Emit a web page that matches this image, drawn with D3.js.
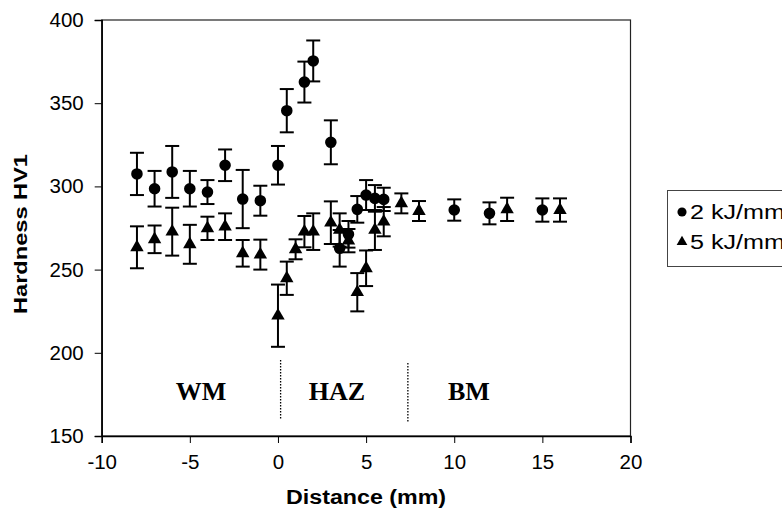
<!DOCTYPE html>
<html>
<head>
<meta charset="utf-8">
<script src="https://cdn.jsdelivr.net/npm/d3@7"></script>
<style>
  body { margin: 0; background: #fff; }
  svg { display: block; font-family: "Liberation Sans", Arial, sans-serif; }
</style>
</head>
<body>
<div id="chart"></div>
<script>
// axis ticks
const xTicks = [-10, -5, 0, 5, 10, 15, 20];
const yTicks = [150, 200, 250, 300, 350, 400];

// 2 kJ/mm series (circles)
const dist2 = [-8, -7, -6, -5, -4, -3, -2, -1, 0, 0.5, 1.5, 2, 3, 3.5, 4, 4.5, 5, 5.5, 6, 10, 12, 15];
const hard2 = [307.5, 298.6, 308.7, 298.6, 296.6, 312.7, 292.4, 291.4, 312.7, 345.5, 362.7, 375.4, 326.5, 262.8, 271.2, 286.2, 294.8, 292.8, 292.2, 285.8, 283.8, 285.8];
const err2 = [12.7, 10.7, 15.6, 10.7, 7.2, 9.5, 17.5, 9, 11.6, 13, 12.3, 12.3, 13.2, 11, 8, 8, 9, 8, 7, 6.4, 6.6, 7];

// 5 kJ/mm series (triangles)
const dist5 = [-8, -7, -6, -5, -4, -3, -2, -1, 0, 0.5, 1, 1.5, 2, 3, 3.5, 4, 4.5, 5, 5.5, 6, 7, 8, 13, 16];
const hard5 = [263.4, 268.2, 272.8, 265.2, 274.8, 275.8, 259.8, 259, 222.3, 244.8, 262.2, 272.8, 272.8, 278.2, 273.8, 267.4, 236.4, 250.8, 273.8, 278.8, 289.8, 285.2, 286.2, 285.8];
const err5 = [12.6, 8.3, 14.4, 11.7, 7, 8, 8, 9, 18.7, 10, 6, 9.4, 11, 12.8, 10, 7, 11.5, 10.7, 12, 8.8, 6, 6, 7, 7];

// zone boundaries and labels
const zoneNames = ['WM', 'HAZ', 'BM'];
const zoneLabelX = [-4.37, 3.35, 10.83];
const boundaryX = [0.15, 7.37];
const boundaryTop = [195.7, 193.9];
const boundaryBottom = [160, 157.8];

const width = 782, height = 516;
const margin = { left: 101.7, right: 782 - 630.5, top: 20, bottom: 516 - 436 };

const svg = d3.select('#chart').append('svg')
    .attr('width', width)
    .attr('height', height);

const x = d3.scaleLinear().domain([-10, 20]).range([margin.left, width - margin.right]);
const y = d3.scaleLinear().domain([150, 400]).range([height - margin.bottom, margin.top]);

// plot frame
svg.append('rect')
    .attr('x', x(-10)).attr('y', y(400))
    .attr('width', x(20) - x(-10)).attr('height', y(150) - y(400))
    .attr('fill', 'none').attr('stroke', '#222').attr('stroke-width', 1.2);

// axes (plain hyphen for negatives, like the original)
const xAxis = svg.append('g')
    .attr('transform', `translate(0,${y(150)})`)
    .call(d3.axisBottom(x).tickValues(xTicks).tickSize(7).tickPadding(9).tickFormat(d => String(d)));
const yAxis = svg.append('g')
    .attr('transform', `translate(${x(-10)},0)`)
    .call(d3.axisLeft(y).tickValues(yTicks).tickSize(7).tickPadding(11));

[xAxis, yAxis].forEach(g => {
    g.select('.domain').attr('stroke', '#000').attr('stroke-width', 1.5);
    g.selectAll('.tick line').attr('stroke', '#000').attr('stroke-width', 1);
    g.selectAll('text')
        .attr('fill', '#000')
        .style('font-family', '"Liberation Sans", Arial, sans-serif')
        .style('font-size', '20.5px');
});
xAxis.selectAll('.tick text').attr('dy', '0.85em');

// axis titles
svg.append('text')
    .attr('x', (x(-10) + x(20)) / 2)
    .attr('y', 504)
    .attr('text-anchor', 'middle')
    .style('font-size', '20px')
    .style('font-weight', 'bold')
    .attr('textLength', 160)
    .attr('lengthAdjust', 'spacingAndGlyphs')
    .text('Distance (mm)');

svg.append('text')
    .attr('transform', `translate(27,234) rotate(-90)`)
    .attr('text-anchor', 'middle')
    .style('font-size', '19px')
    .style('font-weight', 'bold')
    .attr('textLength', 160)
    .attr('lengthAdjust', 'spacingAndGlyphs')
    .text('Hardness HV1');

// zone boundaries
svg.selectAll('.boundary')
    .data(boundaryX)
    .enter()
    .append('line')
    .attr('class', 'boundary')
    .attr('x1', d => x(d)).attr('x2', d => x(d))
    .attr('y1', (d, i) => y(boundaryTop[i]))
    .attr('y2', (d, i) => y(boundaryBottom[i]))
    .attr('stroke', '#000')
    .attr('stroke-width', 1.3)
    .attr('stroke-dasharray', '1.5,1.5');

svg.selectAll('.zone')
    .data(zoneNames)
    .enter()
    .append('text')
    .attr('class', 'zone')
    .attr('x', (d, i) => x(zoneLabelX[i]))
    .attr('y', y(171.6))
    .attr('text-anchor', 'middle')
    .style('font-family', '"Liberation Serif", "Times New Roman", serif')
    .style('font-weight', 'bold')
    .style('font-size', '26px')
    .text(d => d);

// error bars + markers
const capHalf = 7;
function drawSeries(xs, ys, es, symbolType, size) {
    const pts = xs.map((d, i) => ({ x: d, y: ys[i], e: es[i] }));
    const g = svg.append('g');

    const bars = g.selectAll('.err').data(pts).enter().append('g')
        .attr('stroke', '#000').attr('stroke-width', 2);
    bars.append('line')
        .attr('x1', d => x(d.x)).attr('x2', d => x(d.x))
        .attr('y1', d => y(d.y + d.e)).attr('y2', d => y(d.y - d.e));
    bars.append('line')
        .attr('x1', d => x(d.x) - capHalf).attr('x2', d => x(d.x) + capHalf)
        .attr('y1', d => y(d.y + d.e)).attr('y2', d => y(d.y + d.e));
    bars.append('line')
        .attr('x1', d => x(d.x) - capHalf).attr('x2', d => x(d.x) + capHalf)
        .attr('y1', d => y(d.y - d.e)).attr('y2', d => y(d.y - d.e));

    g.selectAll('.mark').data(pts).enter().append('path')
        .attr('d', d3.symbol().type(symbolType).size(size))
        .attr('transform', d => `translate(${x(d.x)},${y(d.y)})`)
        .attr('fill', '#000');
}

drawSeries(dist2, hard2, err2, d3.symbolCircle, 105);
drawSeries(dist5, hard5, err5, d3.symbolTriangle, 78);

// legend
const legend = svg.append('g');
legend.append('rect')
    .attr('x', 667.5).attr('y', 190.5)
    .attr('width', 140).attr('height', 76)
    .attr('fill', '#fff').attr('stroke', '#444').attr('stroke-width', 1);

const legendItems = [
    { label: '2 kJ/mm', type: d3.symbolCircle, size: 65 },
    { label: '5 kJ/mm', type: d3.symbolTriangle, size: 50 }
];
legendItems.forEach((item, i) => {
    const cy = 212 + i * 30;
    legend.append('path')
        .attr('d', d3.symbol().type(item.type).size(item.size))
        .attr('transform', `translate(682,${cy})`)
        .attr('fill', '#000');
    legend.append('text')
        .attr('x', 690)
        .attr('y', cy + 7)
        .style('font-size', '20px')
        .attr('textLength', 95)
        .attr('lengthAdjust', 'spacingAndGlyphs')
        .attr('fill', '#000')
        .text(item.label);
});
</script>
</body>
</html>
